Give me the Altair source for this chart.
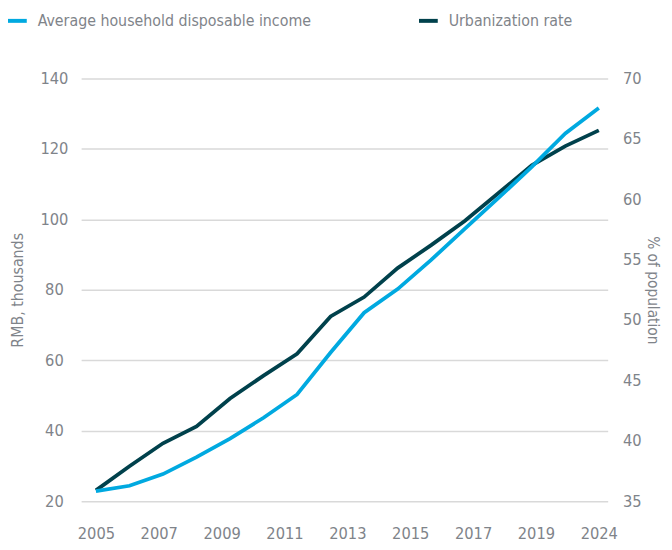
import altair as alt
import pandas as pd

# ---- data ----
IDX = list(range(16))
X_LABELS = ["2005", "2007", "2009", "2011", "2013", "2015", "2017", "2019", "2024"]
INCOME = [22.9, 24.4, 27.7, 32.5, 37.8, 43.7, 50.3, 62.2, 73.5, 80.2, 88.5, 97.3, 106.0, 114.9, 124.4, 131.6]
URBAN = [35.9, 37.9, 39.8, 41.2, 43.5, 45.4, 47.2, 50.3, 51.9, 54.3, 56.2, 58.2, 60.5, 62.8, 64.4, 65.7]
SERIES = ["Average household disposable income", "Urbanization rate"]
COLORS = ["#00a9e0", "#00414c"]
LEFT_TICKS = [20, 40, 60, 80, 100, 120, 140]
RIGHT_TICKS = [35, 40, 45, 50, 55, 60, 65, 70]

df_inc = pd.DataFrame({"t": IDX, "value": INCOME, "series": SERIES[0]})
df_urb = pd.DataFrame({"t": IDX, "value": URBAN, "series": SERIES[1]})

FONT = "DejaVu Sans Condensed, Roboto Condensed, Liberation Sans Narrow, Roboto, sans-serif"
GREY = "#7f848a"
N = len(X_LABELS) - 1
tick_pos = [i * (len(IDX) - 1) / N for i in range(N + 1)]
label_arr = "[" + ",".join("'%s'" % s for s in X_LABELS) + "]"

x = alt.X(
    "t:Q",
    scale=alt.Scale(domain=[-0.442, 15.265], nice=False, zero=False),
    axis=alt.Axis(
        values=tick_pos,
        labelExpr=label_arr + "[round(datum.value*%d/%d)]" % (N, len(IDX) - 1),
        grid=False, domain=False, ticks=False, tickSize=0, title=None,
        labelPadding=25, labelFontSize=16.5, labelColor=GREY, labelFont=FONT,
    ),
)

color = alt.Color(
    "series:N",
    scale=alt.Scale(domain=SERIES, range=COLORS),
    legend=alt.Legend(
        orient="none", legendX=-76, legendY=-70, direction="horizontal",
        title=None, symbolType="stroke", symbolStrokeWidth=4, symbolSize=361,
        labelFontSize=16, labelFont=FONT, labelColor=GREY, labelOffset=9,
        labelLimit=400, columnPadding=101,
    ),
)

urban = alt.Chart(df_urb).mark_line(strokeWidth=3.8).encode(
    x=x,
    y=alt.Y(
        "value:Q",
        scale=alt.Scale(domain=[35, 70], nice=False, zero=False),
        axis=alt.Axis(
            orient="right", values=RIGHT_TICKS, grid=False, domain=False,
            ticks=False, tickSize=0, title="% of population", titleFont=FONT,
            titleFontSize=15.5, titleFontWeight="normal", titleColor=GREY,
            titlePadding=3, labelPadding=15, labelFontSize=16.5,
            labelColor=GREY, labelFont=FONT,
        ),
    ),
    color=color,
)

income = alt.Chart(df_inc).mark_line(strokeWidth=3.8).encode(
    x=x,
    y=alt.Y(
        "value:Q",
        scale=alt.Scale(domain=[20, 140], nice=False, zero=False),
        axis=alt.Axis(
            orient="left", values=LEFT_TICKS, grid=True, gridColor="#d9d9d9",
            gridWidth=1.5, domain=False, ticks=False, tickSize=0,
            title="RMB, thousands", titleFont=FONT, titleFontSize=16,
            titleFontWeight="normal", titleColor=GREY, titlePadding=15,
            labelAlign="center", labelPadding=27.5, labelFontSize=16.5,
            labelColor=GREY, labelFont=FONT,
        ),
    ),
    color=color,
)

chart = (
    alt.layer(urban, income)
    .resolve_scale(y="independent")
    .properties(
        width=533, height=428,
        padding={"left": 74, "top": 68, "right": 57, "bottom": 40},
        autosize=alt.AutoSizeParams(type="none"),
    )
    .configure_view(stroke=None)
)

chart.save("out.html", embed_options={"renderer": "svg", "actions": False})
